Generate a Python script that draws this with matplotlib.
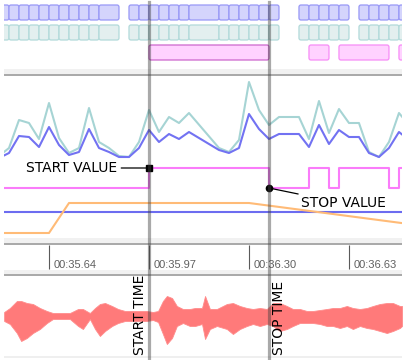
import matplotlib
matplotlib.use("Agg")
import matplotlib.pyplot as plt
from matplotlib.patches import FancyBboxPatch

W, H = 406, 360

# time axis: one frame = 0.033 s, frame 0 sits on the 00:35.64 tick
T0 = 35.64
FRAME = 0.033
T_MIN, T_MAX = 35.4915, 36.805

tick_times = [35.64, 35.97, 36.30, 36.63]
tick_labels = ["00:35.64", "00:35.97", "00:36.30", "00:36.63"]

start_time = 35.97
stop_time = 36.366

# segment rows: first frame, length in frames
seg_start = [-5, -4, -3, -2, -1, 0, 1, 2, 3, 4, 5, 8, 9, 10, 11, 12, 13, 14,
             17, 18, 19, 20, 21, 22, 25, 26, 27, 28, 29, 31, 32, 33, 34, 35]
seg_len = [1, 1, 1, 1, 1, 1, 1, 1, 1, 1, 2, 1, 1, 1, 1, 1, 1, 3,
           1, 1, 1, 1, 1, 1, 1, 1, 1, 1, 1, 1, 1, 1, 1, 1]
active_start = [10, 26, 29, 35]
active_len = [12, 2, 5, 2]

# per-frame curves
frames = [-5, -4, -3, -2, -1, 0, 1, 2, 3, 4, 5, 6, 7, 8, 9, 10, 11, 12, 13, 14,
          17, 18, 19, 20, 21, 22, 23,
          25, 26, 27, 28, 29, 30, 31, 32, 33, 34, 35, 36]
teal_vals = [82, 90, 118, 115, 99, 135, 100, 85, 90, 130, 96, 90, 82, 81, 96, 128, 106, 121, 115, 125,
             90, 86, 98, 156, 128, 113, 121,
             121, 99, 137, 105, 129, 115, 115, 86, 81, 96, 125, 113]
blue_vals = [80, 85, 102, 101, 91, 111, 93, 83, 86, 109, 90, 86, 81, 81, 90, 108, 96, 104, 99, 106,
             88, 85, 90, 124, 109, 99, 104,
             104, 91, 113, 94, 108, 101, 101, 85, 81, 90, 106, 98]
step_low, step_high = 50, 70
flat_level = 26
orange_frames = [-5, 0, 2, 20, 36]
orange_vals = [5, 5, 35, 35, 14]

# audio envelope (time, upper amplitude, lower amplitude)
wave_t = [35.492, 35.511, 35.534, 35.548, 35.567, 35.587, 35.610, 35.633, 35.653, 35.676,
          35.709, 35.736, 35.752, 35.775, 35.792, 35.808, 35.825, 35.848, 35.868, 35.891,
          35.917, 35.940, 35.963, 35.983, 36.000, 36.016, 36.029, 36.046, 36.062, 36.082,
          36.105, 36.122, 36.145, 36.155, 36.171, 36.194, 36.227, 36.247, 36.270, 36.293,
          36.313, 36.336, 36.359, 36.379, 36.402, 36.425, 36.445, 36.468, 36.491, 36.511,
          36.534, 36.557, 36.577, 36.600, 36.623, 36.643, 36.666, 36.689, 36.709, 36.732,
          36.755, 36.775, 36.798, 36.805]
wave_hi = [4, 8, 15, 15, 13, 12, 8, 5, 3, 3,
           3, 7, 7, 3, 8, 12, 13, 10, 7, 5,
           5, 5, 5, 4, 5, 15, 20, 18, 10, 7,
           7, 8, 8, 20, 7, 7, 12, 13, 10, 8,
           7, 8, 7, 13, 13, 10, 7, 7, 5, 5,
           6, 7, 8, 8, 10, 8, 7, 8, 10, 12,
           13, 13, 10, 10]
wave_lo = [5, 8, 17, 25, 22, 17, 13, 7, 3, 3,
           3, 10, 13, 3, 13, 20, 15, 10, 7, 5,
           5, 5, 5, 4, 6, 18, 28, 22, 10, 7,
           10, 10, 8, 23, 13, 10, 13, 18, 13, 10,
           8, 10, 8, 10, 15, 13, 10, 7, 7, 7,
           8, 10, 10, 12, 10, 13, 10, 12, 13, 15,
           17, 15, 12, 10]


def ftime(k):
    return T0 + k * FRAME


def panel(fig, y0, y1):
    ax = fig.add_axes([4 / W, 1 - y1 / H, 398 / W, (y1 - y0) / H])
    ax.set_xlim(T_MIN, T_MAX)
    ax.set_axis_off()
    ax.patch.set_visible(False)
    return ax


fig = plt.figure(figsize=(W / 100, H / 100), dpi=100)
fig.patch.set_facecolor("white")

# background: panel separators, y in pixels
ax_bg = panel(fig, 0, H)
ax_bg.set_ylim(H, 0)
for band, line in [(68.5, 74.5), (238, 243.5), (269.5, 275)]:
    ax_bg.axhspan(band, line - 1, color="#f1f1f1", lw=0)
    ax_bg.axhline(line, color="#a8a8a8", lw=1.4)
ax_bg.axhline(357, color="#ececec", lw=1.2)

# --- segment rows ---
ax_top = panel(fig, 0, 68)
ax_top.set_ylim(68, 0)
rnd = 0.0066
for s, n in zip(seg_start, seg_len):
    for y0, fc, ec in [(5, "#d4d4fc", "#9898f6"), (25, "#e3efef", "#b2dada")]:
        ax_top.add_patch(FancyBboxPatch((ftime(s), y0), n * FRAME, 15,
                                        boxstyle=f"round,pad=0,rounding_size={rnd}",
                                        mutation_aspect=2 / rnd, fc=fc, ec=ec, lw=0.9))
for s, n in zip(active_start, active_len):
    sel = ftime(s) >= start_time - 1e-6 and ftime(s + n) <= stop_time + 1e-6
    ax_top.add_patch(FancyBboxPatch((ftime(s), 45), n * FRAME, 15,
                                    boxstyle=f"round,pad=0,rounding_size={rnd}",
                                    mutation_aspect=2 / rnd, fc="#ffd2ff",
                                    ec="#cc66cc" if sel else "#f78cf7", lw=0.9))

# --- curves ---
ax_mid = panel(fig, 75, 238)
ax_mid.set_ylim(0, 163)
ft = [ftime(k) for k in frames]
ax_mid.plot(ft, teal_vals, color="#a6d4d4", lw=1.5)
ax_mid.plot(ft, blue_vals, color="#7272f2", lw=1.5)

sx, sy = [T_MIN], [step_low]
for s, n in zip(active_start, active_len):
    sx += [ftime(s), ftime(s), ftime(s + n), ftime(s + n)]
    sy += [step_low, step_high, step_high, step_low]
ax_mid.plot(sx, sy, color="#fa7cfa", lw=1.5)
ax_mid.axhline(flat_level, color="#6c6cf0", lw=1.5)
ax_mid.plot([ftime(k) for k in orange_frames], orange_vals, color="#ffbb77", lw=1.5)

ax_mid.plot([start_time], [step_high], "s", color="black", ms=4.5, zorder=5)
ax_mid.plot([stop_time], [step_low], "o", color="black", ms=4.5, zorder=5)
ax_mid.annotate("START VALUE", xy=(start_time, step_high), xytext=(-23, 0),
                textcoords="offset points", ha="right", va="center", fontsize=10,
                arrowprops=dict(arrowstyle="-", color="black", lw=0.9, shrinkA=1, shrinkB=0))
ax_mid.annotate("STOP VALUE", xy=(stop_time, step_low), xytext=(23, -11),
                textcoords="offset points", ha="left", va="center", fontsize=10,
                arrowprops=dict(arrowstyle="-", color="black", lw=0.9, shrinkA=0, shrinkB=0))

# --- time ruler ---
ax_time = panel(fig, 244, 270)
ax_time.set_ylim(270, 244)
ax_time.vlines(tick_times, 245, 269, color="#5a5a5a", lw=0.8)
for t, lab in zip(tick_times, tick_labels):
    ax_time.annotate(lab, (t, 268), xytext=(3.6, 0), textcoords="offset points",
                     ha="left", va="baseline", fontsize=8, color="#606060",
                     family="Liberation Sans")

# --- audio ---
ax_wave = panel(fig, 276, 356)
ax_wave.set_ylim(-40, 40)
ax_wave.fill_between(wave_t, [v for v in wave_hi], [-v for v in wave_lo],
                     color="#ff7a7a", lw=0.6, ec="#ff8c8c")

# --- start / stop markers on top ---
ax_fg = panel(fig, 0, H)
ax_fg.set_ylim(H, 0)
for t in (start_time, stop_time):
    ax_fg.axvline(t, ymin=0, ymax=1 - 2 / H, color="#404040", alpha=0.45, lw=2.3)
ax_fg.annotate("START TIME", (start_time, 355), xytext=(-1.5, 0), textcoords="offset points",
               rotation=90, ha="right", va="bottom", fontsize=10)
ax_fg.annotate("STOP TIME", (stop_time, 355), xytext=(2, 0), textcoords="offset points",
               rotation=90, ha="left", va="bottom", fontsize=10)

fig.savefig("out.png", dpi=100)
